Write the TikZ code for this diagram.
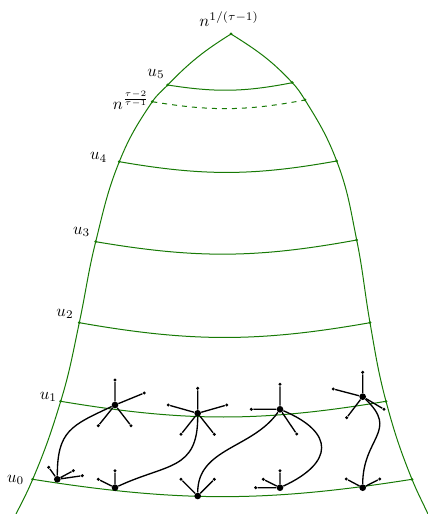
\documentclass[tikz,border=0pt]{standalone}
\usepackage{xcolor}
\usepackage{tikz}
\definecolor{levelgreen}{HTML}{177A05}

\begin{document}
\begin{tikzpicture}[x=0.6pt, y=0.6pt,
    level/.style={draw=levelgreen, semithick},
    hub/.style={circle, fill=black, inner sep=0pt, minimum size=4pt},
    leaf/.style={circle, fill=black, inner sep=0pt, minimum size=2pt},
    edge/.style={draw=black, thick}]
    \useasboundingbox (0,0) rectangle (428,514);

    % boundary of the cone
    \coordinate (top) at (231,480);
    \coordinate (bl) at (16,0);
    \coordinate (l0) at (32.7,34.7);
    \coordinate (l1) at (60.7,112.7);
    \coordinate (l2) at (79.3,191.3);
    \coordinate (l3) at (95.7,272.3);
    \coordinate (l4) at (119.3,352.3);
    \coordinate (ld) at (152.3,412.3);
    \coordinate (l5) at (167.7,429);
    \coordinate (br) at (428,0);
    \coordinate (r0) at (412,34.7);
    \coordinate (r1) at (386,112.7);
    \coordinate (r2) at (370,191.3);
    \coordinate (r3) at (356.7,274);
    \coordinate (r4) at (336.7,353);
    \coordinate (rd) at (305,414);
    \coordinate (r5) at (292.3,431.3);
    \draw[level] (top) to[out=212, in=46] (l5) to[out=226, in=56] (ld)
      to[out=236, in=68] (l4) to[out=248, in=76] (l3) to[out=256, in=78] (l2)
      to[out=258, in=73] (l1) to[out=253, in=67] (l0) to[out=247, in=63] (bl);
    \draw[level] (top) to[out=-32, in=133] (r5) to[out=-47, in=122] (rd)
      to[out=-58, in=111] (r4) to[out=-69, in=101.5] (r3) to[out=-78.5, in=100] (r2)
      to[out=-80, in=105] (r1) to[out=-75, in=112] (r0) to[out=-68, in=115] (br);

    % layers
    \draw[level] (l5) to[bend right=10] (r5);
    \draw[level, dashed] (ld) to[bend right=10] (rd);
    \draw[level] (l4) to[bend right=10] (r4);
    \draw[level] (l3) to[bend right=10] (r3);
    \draw[level] (l2) to[bend right=10] (r2);
    \draw[level] (l1) to[bend right=9.5] (r1);
    \draw[level] (l0) to[bend right=9] (r0);
    \foreach \p in {top,l0,l1,l2,l3,l4,ld,l5,r0,r1,r2,r3,r4,rd,r5}
      \fill[levelgreen] (\p) circle (0.9pt);

    \node (ntop) at (229,495) {$n^{1/(\tau-1)}$};
    \node (lu5) at (156,440) {$u_5$};
    \node (nfrac) at (131,414) {$n^{\frac{\tau-2}{\tau-1}}$};
    \node (lu4) at (98.7,356.5) {$u_4$};
    \node (lu3) at (81.7,282.3) {$u_3$};
    \node (lu2) at (65,200) {$u_2$};
    \node (lu1) at (48.3,117) {$u_1$};
    \node (lu0) at (15.7,34) {$u_0$};

    % stars on u_1
    \node[hub] (p1) at (115,109) {};
    \node[leaf] (p1a) at (115,134) {};
    \node[leaf] (p1b) at (144.3,121) {};
    \node[leaf] (p1c) at (98.3,88.3) {};
    \node[leaf] (p1d) at (131,88.3) {};
    \node[hub] (p2) at (197.7,100.7) {};
    \node[leaf] (p2a) at (197.7,125.7) {};
    \node[leaf] (p2b) at (168.3,109) {};
    \node[leaf] (p2c) at (226.7,109) {};
    \node[leaf] (p2d) at (181,79.7) {};
    \node[leaf] (p2e) at (214.3,79.7) {};
    \node[hub] (p3) at (280,104.7) {};
    \node[leaf] (p3a) at (280,129.7) {};
    \node[leaf] (p3b) at (251.3,104.7) {};
    \node[leaf] (p3c) at (296.7,80) {};
    \node[hub] (p4) at (362.7,117.3) {};
    \node[leaf] (p4a) at (362.7,141.7) {};
    \node[leaf] (p4b) at (333.3,125) {};
    \node[leaf] (p4c) at (346.7,96.3) {};
    \node[leaf] (p4d) at (384,104.7) {};

    % stars on u_0
    \node[hub] (q1) at (57.3,34.7) {};
    \node[leaf] (q1a) at (48.7,46.7) {};
    \node[leaf] (q1b) at (73.3,43.3) {};
    \node[leaf] (q1c) at (82.3,38.3) {};
    \node[hub] (q2) at (115,26.3) {};
    \node[leaf] (q2a) at (115,43.3) {};
    \node[leaf] (q2b) at (98.3,34.7) {};
    \node[hub] (q3) at (197.7,18) {};
    \node[leaf] (q3a) at (181,34.7) {};
    \node[leaf] (q3b) at (214.3,34.7) {};
    \node[hub] (q4) at (280,26.3) {};
    \node[leaf] (q4a) at (280,43.3) {};
    \node[leaf] (q4b) at (263.3,34.7) {};
    \node[leaf] (q4c) at (255.7,26.3) {};
    \node[hub] (q5) at (362.7,26.3) {};
    \node[leaf] (q5a) at (346.3,35) {};
    \node[leaf] (q5b) at (379.7,35) {};

    \draw[edge] (p1)--(p1a) (p1)--(p1b) (p1)--(p1c) (p1)--(p1d);
    \draw[edge] (p2)--(p2a) (p2)--(p2b) (p2)--(p2c) (p2)--(p2d) (p2)--(p2e);
    \draw[edge] (p3)--(p3a) (p3)--(p3b) (p3)--(p3c);
    \draw[edge] (p4)--(p4a) (p4)--(p4b) (p4)--(p4c) (p4)--(p4d);
    \draw[edge] (q1)--(q1a) (q1)--(q1b) (q1)--(q1c);
    \draw[edge] (q2)--(q2a) (q2)--(q2b);
    \draw[edge] (q3)--(q3a) (q3)--(q3b);
    \draw[edge] (q4)--(q4a) (q4)--(q4b) (q4)--(q4c);
    \draw[edge] (q5)--(q5a) (q5)--(q5b);

    % links between the layers
    \draw[edge] (q1) to[out=90, in=205, looseness=1.3] (p1);
    \draw[edge] (q2) to[out=25, in=-90, looseness=1.3] (p2);
    \draw[edge] (q3) to[out=90, in=235] (p3);
    \draw[edge] (p3) to[out=-23, in=25, looseness=1.9] (q4);
    \draw[edge] (p4) to[out=-43, in=90, looseness=1.4] (q5);
  \end{tikzpicture}
\end{document}
